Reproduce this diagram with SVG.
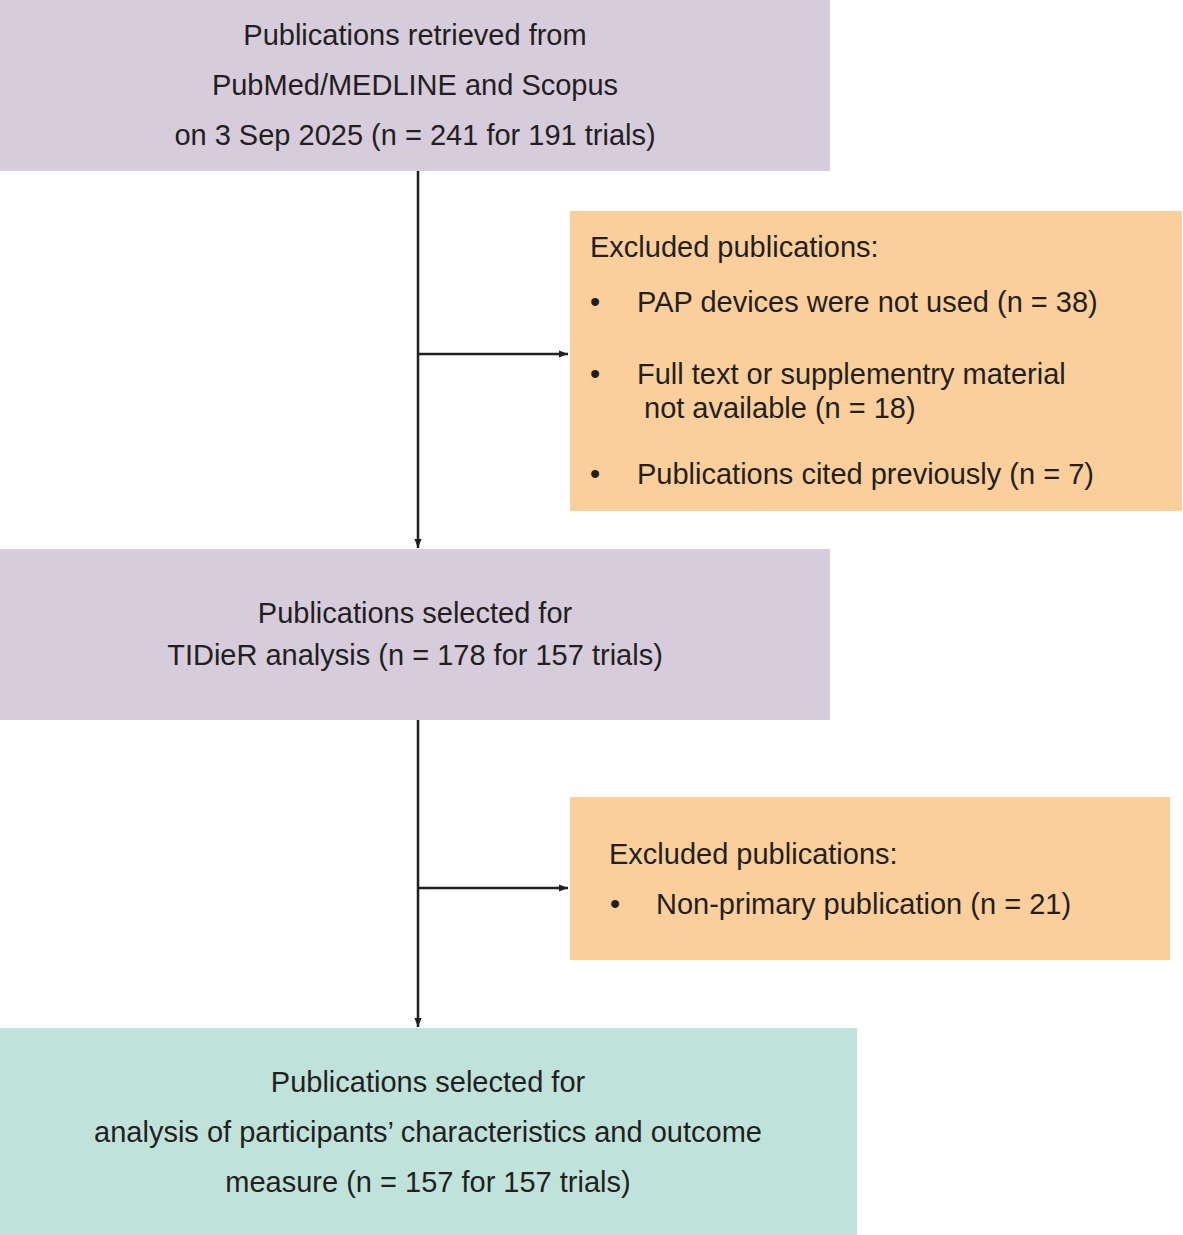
<svg xmlns="http://www.w3.org/2000/svg" width="1183" height="1235" viewBox="0 0 1183 1235">
<style>
text{font-family:"Liberation Sans",Arial,sans-serif;font-size:29px;fill:#231f20}
.c{text-anchor:middle}
.p{fill:#d6ccdb}.o{fill:#fbcf9b}.t{fill:#bfe3da}
.ln{stroke:#231f20;stroke-width:2.5;fill:none;marker-end:url(#a)}
</style>
<defs><marker id="a" viewBox="0 0 10 10" refX="10" refY="5" markerWidth="9" markerHeight="9" markerUnits="userSpaceOnUse" orient="auto"><path d="M0,1 L10,5 L0,9 Z" fill="#231f20"/></marker>
<marker id="a2" viewBox="0 0 10 10" refX="10" refY="5" markerWidth="10" markerHeight="10" orient="auto"/></defs>
<g id="n1"><rect class="p" x="0" y="0" width="830" height="171"/>
<text class="c" x="415" y="45">Publications retrieved from</text>
<text class="c" x="415" y="95">PubMed/MEDLINE and Scopus</text>
<text class="c" x="415" y="145">on 3 Sep 2025 (n = 241 for 191 trials)</text></g>
<g id="e1"><rect class="o" x="570" y="211" width="612" height="300"/>
<text x="590" y="257">Excluded publications:</text>
<text x="590" y="312">•</text><text x="637" y="312">PAP devices were not used (n = 38)</text>
<text x="590" y="384">•</text><text x="637" y="384">Full text or supplementry material</text>
<text x="644" y="418">not available (n = 18)</text>
<text x="590" y="484">•</text><text x="637" y="484">Publications cited previously (n = 7)</text></g>
<g id="n2"><rect class="p" x="0" y="549" width="830" height="171"/>
<text class="c" x="415" y="623">Publications selected for</text>
<text class="c" x="415" y="665">TIDieR analysis (n = 178 for 157 trials)</text></g>
<g id="e2"><rect class="o" x="570" y="797" width="600" height="163"/>
<text x="609" y="864">Excluded publications:</text>
<text x="610" y="914">•</text><text x="656" y="914">Non-primary publication (n = 21)</text></g>
<g id="n3"><rect class="t" x="0" y="1028" width="857" height="207"/>
<text class="c" x="428" y="1092">Publications selected for</text>
<text class="c" x="428" y="1142">analysis of participants’ characteristics and outcome</text>
<text class="c" x="428" y="1192">measure (n = 157 for 157 trials)</text></g>
<g id="connectors">
<path class="ln" d="M418,171 V548"/>
<path class="ln" d="M418,354 H568"/>
<path class="ln" d="M418,720 V1027"/>
<path class="ln" d="M418,888 H568"/>
</g>
</svg>
